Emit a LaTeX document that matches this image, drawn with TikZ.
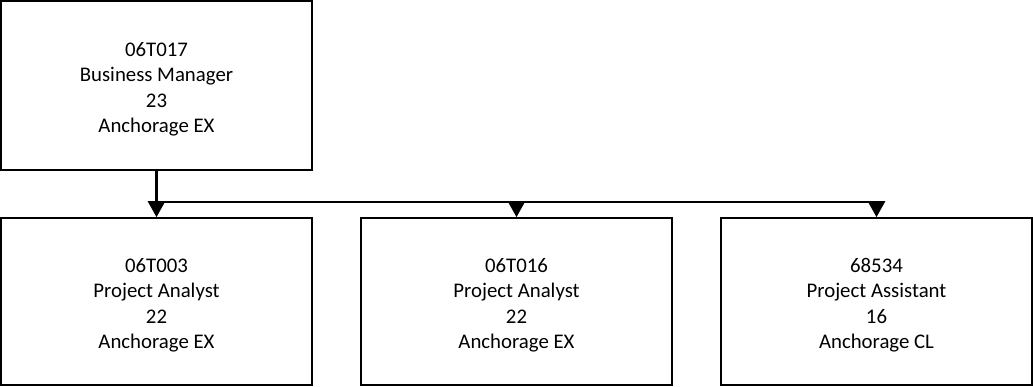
\documentclass[tikz,border=0pt]{standalone}
\usepackage{fontspec}
\setmainfont{Carlito}
\usetikzlibrary{arrows.meta}
\newcommand{\tstrut}{\rule{0pt}{21.5pt}}
\begin{document}
\begin{tikzpicture}[x=1pt,y=-1pt,
  box/.style={draw=black,line width=1.6pt,fill=white,align=center,inner sep=0pt,
    font=\fontsize{20.8}{25.3}\selectfont},
  topbox/.style={box,minimum width=311pt,minimum height=169pt},
  lowbox/.style={box,minimum width=311pt,minimum height=167pt},
  conn/.style={line width=2.6pt,-{Triangle[width=17pt,length=16pt]}},
  bar/.style={line width=2.6pt}]
\useasboundingbox (0,0) rectangle (1033,387);
\node[topbox] (top) at (156.5,85.5) {\tstrut 06T017\\Business Manager\\23\\Anchorage EX};
\node[lowbox] (b1) at (156.5,301.5) {\tstrut 06T003\\Project Analyst\\22\\Anchorage EX};
\node[lowbox] (b2) at (516.5,301.5) {\tstrut 06T016\\Project Analyst\\22\\Anchorage EX};
\node[lowbox] (b3) at (876.5,301.5) {\tstrut 68534\\Project Assistant\\16\\Anchorage CL};
\coordinate (j1) at (156.5,202);
\coordinate (j2) at (516.5,202);
\coordinate (j3) at (876.5,202);
\draw[conn] (top.south) -- (b1.north);
\draw[bar] (j1) -- (j3);
\draw[conn] (j2) -- (b2.north);
\draw[conn] (j3) -- (b3.north);
\end{tikzpicture}
\end{document}
